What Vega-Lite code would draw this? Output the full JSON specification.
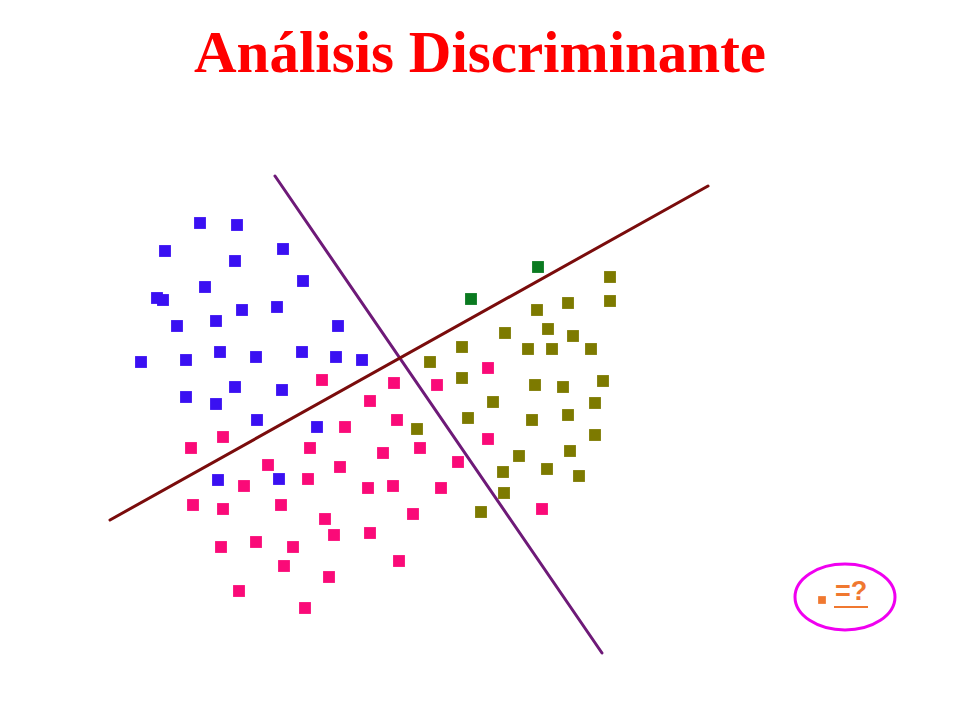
{
  "$schema": "https://vega.github.io/schema/vega-lite/v6.json",
  "width": 960,
  "height": 620,
  "autosize": {"type": "none"},
  "padding": {"top": 100, "left": 0, "right": 0, "bottom": 0},
  "background": "white",
  "title": {"text": "Análisis Discriminante", "font": "Liberation Serif", "fontSize": 59, "fontWeight": "bold", "color": "#ff0000", "anchor": "middle", "baseline": "alphabetic", "offset": -31},
  "config": {"view": {"stroke": null}},
  "resolve": {"scale": {"color": "independent"}},
  "datasets": {
    "lineas": [
      {"linea": "A", "x": 275, "y": 176, "x2": 602, "y2": 653},
      {"linea": "B", "x": 110, "y": 520, "x2": 708, "y2": 186}
    ],
    "puntos": [
      {"grupo": "azul", "x": 200, "y": 223}, {"grupo": "azul", "x": 237, "y": 225}, {"grupo": "azul", "x": 165, "y": 251},
      {"grupo": "azul", "x": 283, "y": 249}, {"grupo": "azul", "x": 235, "y": 261}, {"grupo": "azul", "x": 303, "y": 281},
      {"grupo": "azul", "x": 205, "y": 287}, {"grupo": "azul", "x": 157, "y": 298}, {"grupo": "azul", "x": 163, "y": 300},
      {"grupo": "azul", "x": 242, "y": 310}, {"grupo": "azul", "x": 277, "y": 307}, {"grupo": "azul", "x": 177, "y": 326},
      {"grupo": "azul", "x": 216, "y": 321}, {"grupo": "azul", "x": 338, "y": 326}, {"grupo": "azul", "x": 141, "y": 362},
      {"grupo": "azul", "x": 186, "y": 360}, {"grupo": "azul", "x": 220, "y": 352}, {"grupo": "azul", "x": 256, "y": 357},
      {"grupo": "azul", "x": 302, "y": 352}, {"grupo": "azul", "x": 336, "y": 357}, {"grupo": "azul", "x": 362, "y": 360},
      {"grupo": "azul", "x": 235, "y": 387}, {"grupo": "azul", "x": 282, "y": 390}, {"grupo": "azul", "x": 186, "y": 397},
      {"grupo": "azul", "x": 216, "y": 404}, {"grupo": "azul", "x": 257, "y": 420}, {"grupo": "azul", "x": 317, "y": 427},
      {"grupo": "azul", "x": 218, "y": 480}, {"grupo": "azul", "x": 279, "y": 479},
      {"grupo": "rosa", "x": 322, "y": 380}, {"grupo": "rosa", "x": 370, "y": 401}, {"grupo": "rosa", "x": 345, "y": 427},
      {"grupo": "rosa", "x": 223, "y": 437}, {"grupo": "rosa", "x": 191, "y": 448}, {"grupo": "rosa", "x": 310, "y": 448},
      {"grupo": "rosa", "x": 397, "y": 420}, {"grupo": "rosa", "x": 383, "y": 453}, {"grupo": "rosa", "x": 420, "y": 448},
      {"grupo": "rosa", "x": 394, "y": 383}, {"grupo": "rosa", "x": 437, "y": 385}, {"grupo": "rosa", "x": 488, "y": 368},
      {"grupo": "rosa", "x": 488, "y": 439}, {"grupo": "rosa", "x": 458, "y": 462}, {"grupo": "rosa", "x": 441, "y": 488},
      {"grupo": "rosa", "x": 542, "y": 509}, {"grupo": "rosa", "x": 268, "y": 465}, {"grupo": "rosa", "x": 340, "y": 467},
      {"grupo": "rosa", "x": 244, "y": 486}, {"grupo": "rosa", "x": 308, "y": 479}, {"grupo": "rosa", "x": 368, "y": 488},
      {"grupo": "rosa", "x": 393, "y": 486}, {"grupo": "rosa", "x": 193, "y": 505}, {"grupo": "rosa", "x": 223, "y": 509},
      {"grupo": "rosa", "x": 281, "y": 505}, {"grupo": "rosa", "x": 325, "y": 519}, {"grupo": "rosa", "x": 413, "y": 514},
      {"grupo": "rosa", "x": 334, "y": 535}, {"grupo": "rosa", "x": 370, "y": 533}, {"grupo": "rosa", "x": 221, "y": 547},
      {"grupo": "rosa", "x": 256, "y": 542}, {"grupo": "rosa", "x": 293, "y": 547}, {"grupo": "rosa", "x": 284, "y": 566},
      {"grupo": "rosa", "x": 329, "y": 577}, {"grupo": "rosa", "x": 399, "y": 561}, {"grupo": "rosa", "x": 239, "y": 591},
      {"grupo": "rosa", "x": 305, "y": 608},
      {"grupo": "oliva", "x": 610, "y": 277}, {"grupo": "oliva", "x": 610, "y": 301}, {"grupo": "oliva", "x": 568, "y": 303},
      {"grupo": "oliva", "x": 537, "y": 310}, {"grupo": "oliva", "x": 505, "y": 333}, {"grupo": "oliva", "x": 548, "y": 329},
      {"grupo": "oliva", "x": 573, "y": 336}, {"grupo": "oliva", "x": 462, "y": 347}, {"grupo": "oliva", "x": 528, "y": 349},
      {"grupo": "oliva", "x": 552, "y": 349}, {"grupo": "oliva", "x": 591, "y": 349}, {"grupo": "oliva", "x": 430, "y": 362},
      {"grupo": "oliva", "x": 462, "y": 378}, {"grupo": "oliva", "x": 535, "y": 385}, {"grupo": "oliva", "x": 563, "y": 387},
      {"grupo": "oliva", "x": 603, "y": 381}, {"grupo": "oliva", "x": 493, "y": 402}, {"grupo": "oliva", "x": 468, "y": 418},
      {"grupo": "oliva", "x": 532, "y": 420}, {"grupo": "oliva", "x": 568, "y": 415}, {"grupo": "oliva", "x": 595, "y": 403},
      {"grupo": "oliva", "x": 417, "y": 429}, {"grupo": "oliva", "x": 595, "y": 435}, {"grupo": "oliva", "x": 519, "y": 456},
      {"grupo": "oliva", "x": 570, "y": 451}, {"grupo": "oliva", "x": 503, "y": 472}, {"grupo": "oliva", "x": 547, "y": 469},
      {"grupo": "oliva", "x": 579, "y": 476}, {"grupo": "oliva", "x": 504, "y": 493}, {"grupo": "oliva", "x": 481, "y": 512},
      {"grupo": "verde", "x": 538, "y": 267}, {"grupo": "verde", "x": 471, "y": 299}
    ],
    "nota": [{"x": 845, "y": 597, "ix": 822, "iy": 600, "tx": 851, "ty": 592, "ux": 834, "ux2": 868, "uy": 607, "texto": "=?"}]
  },
  "layer": [
    {
      "data": {"name": "lineas"},
      "mark": {"type": "rule", "strokeWidth": 3, "strokeCap": "round"},
      "encoding": {
        "x": {"field": "x", "type": "quantitative", "scale": {"domain": [0, 960], "nice": false, "zero": false}, "axis": null},
        "y": {"field": "y", "type": "quantitative", "scale": {"domain": [100, 720], "nice": false, "zero": false, "reverse": true}, "axis": null},
        "x2": {"field": "x2"},
        "y2": {"field": "y2"},
        "color": {"field": "linea", "type": "nominal", "scale": {"domain": ["A", "B"], "range": ["#6e1a78", "#7a0c0c"]}, "legend": null}
      }
    },
    {
      "data": {"name": "puntos"},
      "mark": {"type": "point", "shape": "square", "filled": true, "size": 140, "opacity": 1},
      "encoding": {
        "x": {"field": "x", "type": "quantitative", "scale": {"domain": [0, 960], "nice": false, "zero": false}, "axis": null},
        "y": {"field": "y", "type": "quantitative", "scale": {"domain": [100, 720], "nice": false, "zero": false, "reverse": true}, "axis": null},
        "color": {"field": "grupo", "type": "nominal", "scale": {"domain": ["azul", "rosa", "oliva", "verde"], "range": ["#3a10f2", "#fa0a78", "#7d7a00", "#0a7a20"]}, "legend": null}
      }
    },
    {
      "data": {"name": "nota"},
      "mark": {"type": "point", "shape": "M-1,0 A1,0.66 0 1,0 1,0 A1,0.66 0 1,0 -1,0 Z", "filled": false, "size": 10000, "stroke": "#f000f0", "strokeWidth": 3, "opacity": 1},
      "encoding": {
        "x": {"field": "x", "type": "quantitative", "scale": {"domain": [0, 960], "nice": false, "zero": false}, "axis": null},
        "y": {"field": "y", "type": "quantitative", "scale": {"domain": [100, 720], "nice": false, "zero": false, "reverse": true}, "axis": null}
      }
    },
    {
      "data": {"name": "nota"},
      "mark": {"type": "point", "shape": "square", "filled": true, "size": 60, "color": "#f07830", "opacity": 1},
      "encoding": {
        "x": {"field": "ix", "type": "quantitative", "scale": {"domain": [0, 960], "nice": false, "zero": false}, "axis": null},
        "y": {"field": "iy", "type": "quantitative", "scale": {"domain": [100, 720], "nice": false, "zero": false, "reverse": true}, "axis": null}
      }
    },
    {
      "data": {"name": "nota"},
      "mark": {"type": "text", "font": "Liberation Sans", "fontSize": 27, "fontWeight": "bold", "color": "#f07830", "align": "center", "baseline": "middle"},
      "encoding": {
        "x": {"field": "tx", "type": "quantitative", "scale": {"domain": [0, 960], "nice": false, "zero": false}, "axis": null},
        "y": {"field": "ty", "type": "quantitative", "scale": {"domain": [100, 720], "nice": false, "zero": false, "reverse": true}, "axis": null},
        "text": {"field": "texto"}
      }
    },
    {
      "data": {"name": "nota"},
      "mark": {"type": "rule", "strokeWidth": 2, "color": "#f07830"},
      "encoding": {
        "x": {"field": "ux", "type": "quantitative", "scale": {"domain": [0, 960], "nice": false, "zero": false}, "axis": null},
        "x2": {"field": "ux2"},
        "y": {"field": "uy", "type": "quantitative", "scale": {"domain": [100, 720], "nice": false, "zero": false, "reverse": true}, "axis": null}
      }
    }
  ]
}
